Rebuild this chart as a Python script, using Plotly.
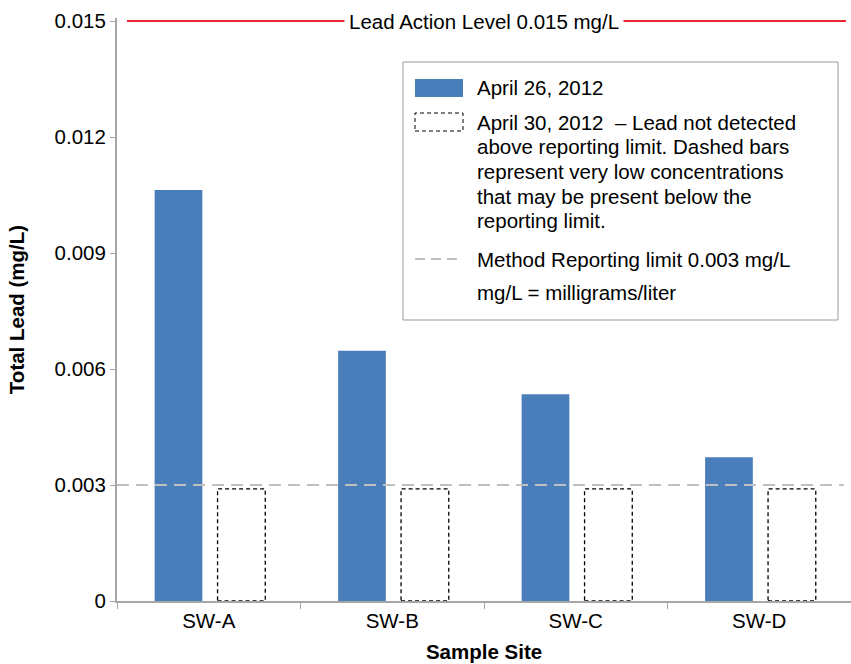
import plotly.graph_objects as go

# -----------------------------
# Data
# -----------------------------
sites = ["SW-A", "SW-B", "SW-C", "SW-D"]
lead_apr26 = [0.01063, 0.00647, 0.00535, 0.00372]
lead_apr30 = [0.0029, 0.0029, 0.0029, 0.0029]   # not detected, shown dashed
action_level = 0.015
reporting_limit = 0.003
y_ticks = [0, 0.003, 0.006, 0.009, 0.012, 0.015]
y_ticktext = ["0", "0.003", "0.006", "0.009", "0.012", "0.015"]

legend_lines = [
    "April 26, 2012",
    "April 30, 2012  \u2013 Lead not detected",
    "above reporting limit. Dashed bars",
    "represent very low concentrations",
    "that may be present below the",
    "reporting limit.",
    "Method Reporting limit 0.003 mg/L",
    "mg/L = milligrams/liter",
]

# -----------------------------
# Styling
# -----------------------------
FONT = "Arial, Liberation Sans, sans-serif"
FS = 20.5
BLUE = "#4A7EBB"
RED = "#E8262E"
GREY = "#C0C0C0"
AXIS = "#A6A6A6"

W, H = 851, 664
L, R, T, B = 117, 0, 18, 63
y_top = action_level * (1 + 3 / 580)   # a few px of headroom above 0.015

def px(xp):
    return (xp - L) / (W - L - R)

def py(yp):
    return (H - B - yp) / (H - T - B)

bar_w = 0.26
off_a = -0.295
off_b = 0.048

fig = go.Figure()

fig.add_trace(go.Bar(
    x=sites, y=lead_apr26, name="April 26, 2012",
    marker=dict(color=BLUE, line=dict(width=0)),
    width=bar_w, offset=off_a, showlegend=False
))
fig.add_trace(go.Bar(
    x=sites, y=lead_apr30, name="April 30, 2012",
    marker=dict(color="rgba(255,255,255,0)", line=dict(width=0)),
    width=bar_w, offset=off_b, showlegend=False
))

# dashed outlines for non-detect bars
for i, v in enumerate(lead_apr30):
    fig.add_shape(type="rect", xref="x", yref="y",
                  x0=i + off_b, x1=i + off_b + bar_w, y0=0, y1=v,
                  line=dict(color="black", width=1.3, dash="4px,3px"),
                  fillcolor="rgba(0,0,0,0)", layer="above")

# reporting limit
fig.add_shape(type="line", xref="paper", yref="y", x0=0, x1=0.99,
              y0=reporting_limit, y1=reporting_limit,
              line=dict(color=GREY, width=2, dash="12px,7px"), layer="above")

# action level
fig.add_shape(type="line", xref="paper", yref="y", x0=px(127), x1=px(846),
              y0=action_level, y1=action_level,
              line=dict(color=RED, width=2), layer="above")
fig.add_annotation(xref="paper", yref="y", x=px(484), y=action_level,
                   text="Lead Action Level 0.015 mg/L", showarrow=False,
                   bgcolor="white", font=dict(size=FS, color="black"),
                   xanchor="center", yanchor="middle", borderpad=4)

# -----------------------------
# Custom legend box
# -----------------------------
fig.add_shape(type="rect", xref="paper", yref="paper",
              x0=px(403), x1=px(838), y0=py(320), y1=py(62),
              line=dict(color="#999999", width=1), fillcolor="white", layer="above")
fig.add_shape(type="rect", xref="paper", yref="paper",
              x0=px(415), x1=px(463), y0=py(97), y1=py(79),
              line=dict(width=0), fillcolor=BLUE, layer="above")
fig.add_shape(type="rect", xref="paper", yref="paper",
              x0=px(415), x1=px(463), y0=py(131), y1=py(113),
              line=dict(color="black", width=1, dash="4px,3px"),
              fillcolor="white", layer="above")
fig.add_shape(type="line", xref="paper", yref="paper",
              x0=px(415), x1=px(463), y0=py(259), y1=py(259),
              line=dict(color=GREY, width=2, dash="10px,6px"), layer="above")

legend_y = [88, 122, 146, 171, 196, 220, 259, 292]
for txt, yy in zip(legend_lines, legend_y):
    fig.add_annotation(xref="paper", yref="paper", x=px(475), y=py(yy),
                       text=txt, showarrow=False, xanchor="left", yanchor="middle",
                       font=dict(size=FS, color="black"))

fig.update_layout(
    width=W, height=H,
    margin=dict(l=L, r=R, t=T, b=B),
    plot_bgcolor="white", paper_bgcolor="white",
    font=dict(family=FONT, size=FS, color="black"),
    showlegend=False,
    xaxis=dict(
        type="category", range=[-0.5, 3.5], tickson="boundaries",
        ticks="outside", ticklen=6, tickcolor=AXIS,
        showline=True, linecolor=AXIS, linewidth=2,
        showgrid=False, tickfont=dict(size=FS),
        title=dict(text="<b>Sample Site</b>", font=dict(size=FS), standoff=14),
    ),
    yaxis=dict(
        range=[0, y_top], tickvals=y_ticks, ticktext=y_ticktext,
        ticks="outside", ticklen=5, tickcolor=AXIS,
        showline=True, linecolor=AXIS, linewidth=2,
        showgrid=False, zeroline=False, tickfont=dict(size=FS),
        title=dict(text="<b>Total Lead (mg/L)</b>", font=dict(size=FS), standoff=24),
    ),
)

fig.write_html("out.html", config={"displayModeBar": False},
               post_script="document.body.style.margin='0';")
